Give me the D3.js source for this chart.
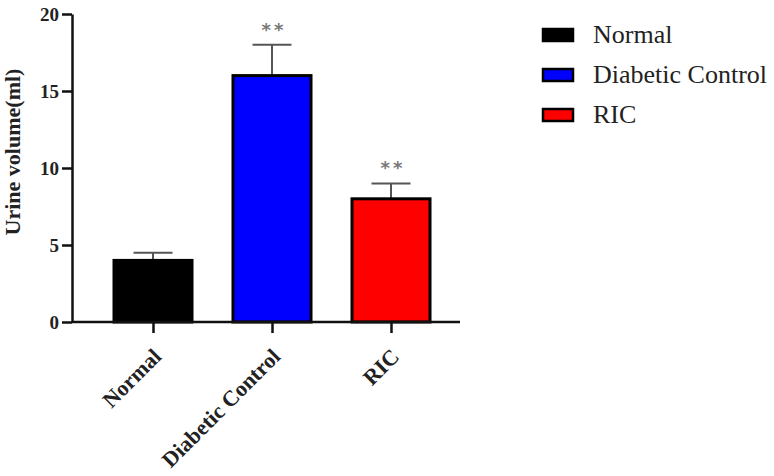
<!DOCTYPE html>
<html>
<head>
<meta charset="utf-8">
<script src="https://cdn.jsdelivr.net/npm/d3@7"></script>
<style>
  html, body { margin: 0; padding: 0; background: #fff; }
  svg { display: block; }
</style>
</head>
<body>
<svg id="chart" width="774" height="476"></svg>
<script>
const categories = ["Normal", "Diabetic Control", "RIC"];
const means = [4, 16, 8];
const errors = [0.5, 2, 1];
const significance = ["", "**", "**"];
const colors = ["#000000", "#0000ff", "#ff0000"];
const yTicks = [0, 5, 10, 15, 20];
const yLabel = "Urine volume(ml)";

const svg = d3.select("#chart");
const serif = "'Liberation Serif', 'Times New Roman', serif";

const x = d3.scalePoint().domain(categories).range([153, 391]);
const y = d3.scaleLinear().domain([0, 20]).range([322, 14]);
const barW = 78;
const capW = 39;

// Y axis
const yAxis = svg.append("g").attr("transform", "translate(72,0)")
  .call(d3.axisLeft(y).tickValues(yTicks).tickSize(10).tickPadding(3).tickSizeOuter(0));
yAxis.select(".domain").attr("stroke", "#111").attr("stroke-width", 2.5);
yAxis.selectAll(".tick line").attr("stroke", "#111").attr("stroke-width", 2.5);
yAxis.selectAll(".tick text").attr("font-family", serif).attr("font-weight", "bold")
  .attr("font-size", 19).attr("fill", "#222");

// Bars
const g = svg.append("g");
categories.forEach((c, i) => {
  const cx = x(c);
  g.append("line").attr("x1", cx).attr("x2", cx)
    .attr("y1", y(means[i])).attr("y2", y(means[i] + errors[i]))
    .attr("stroke", "#555").attr("stroke-width", 2);
  g.append("line").attr("x1", cx - capW / 2).attr("x2", cx + capW / 2)
    .attr("y1", y(means[i] + errors[i])).attr("y2", y(means[i] + errors[i]))
    .attr("stroke", "#555").attr("stroke-width", 2);
  g.append("rect")
    .attr("x", cx - barW / 2).attr("y", y(means[i]))
    .attr("width", barW).attr("height", y(0) - y(means[i]))
    .attr("fill", colors[i]).attr("stroke", "#000").attr("stroke-width", 3);
  if (significance[i]) {
    g.append("text").attr("x", cx + 2).attr("y", y(means[i] + errors[i]) - 9)
      .attr("text-anchor", "middle").attr("font-family", "'DejaVu Sans', sans-serif")
      .attr("font-weight", "bold").attr("font-size", 18).attr("fill", "#777")
      .attr("letter-spacing", 3)
      .text(significance[i]);
  }
});

// X axis
svg.append("line").attr("x1", 72).attr("x2", 460).attr("y1", 322).attr("y2", 322)
  .attr("stroke", "#111").attr("stroke-width", 2.5);
const xAxis = d3.axisBottom(x).tickSize(11).tickSizeOuter(0);
const xa = svg.append("g").attr("transform", "translate(0,322)").call(xAxis);
xa.select(".domain").remove();
xa.selectAll(".tick line").attr("stroke", "#111").attr("stroke-width", 2.5);
xa.selectAll(".tick text")
  .attr("font-family", serif).attr("font-weight", "bold").attr("font-size", 22)
  .attr("fill", "#222")
  .attr("text-anchor", "end")
  .attr("dy", 0)
  .attr("transform", "translate(9,36) rotate(-45)")
  .attr("x", 0).attr("y", 0);

// Y label
svg.append("text")
  .attr("transform", "translate(20,152) rotate(-90)")
  .attr("text-anchor", "middle")
  .attr("font-family", serif).attr("font-weight", "bold").attr("font-size", 22)
  .attr("fill", "#222")
  .text(yLabel);

// Legend
const legend = svg.append("g");
categories.forEach((c, i) => {
  const ly = 35 + i * 40;
  legend.append("rect").attr("x", 543).attr("y", ly - 6).attr("width", 30).attr("height", 12)
    .attr("fill", colors[i]).attr("stroke", "#000").attr("stroke-width", 2.5);
  legend.append("text").attr("x", 593).attr("y", ly + 8)
    .attr("font-family", serif).attr("font-size", 26).attr("fill", "#222")
    .text(c);
});
</script>
</body>
</html>
